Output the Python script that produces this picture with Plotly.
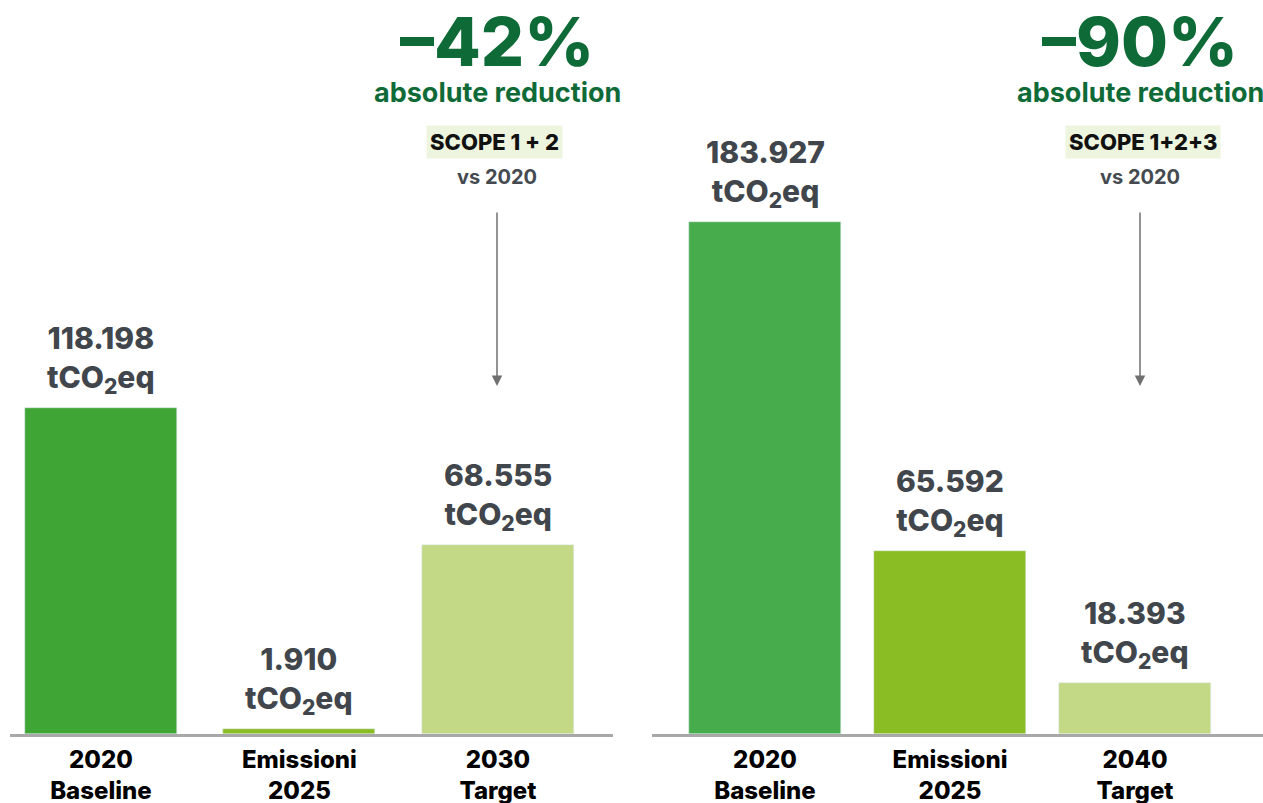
import plotly.graph_objects as go

# Emissions data (tCO2eq)
left_categories = ["2020<br>Baseline", "Emissioni<br>2025", "2030<br>Target"]
left_values = [118198, 1910, 68555]
right_categories = ["2020<br>Baseline", "Emissioni<br>2025", "2040<br>Target"]
right_values = [183927, 65592, 18393]

left_colors = ["#3fa535", "#8abd24", "#c3d986"]
right_colors = ["#47ad4c", "#8abd24", "#c3d986"]

left_headline = "–42%"
right_headline = "–90%"
subtitle = "absolute reduction"
left_scope = "SCOPE 1 + 2"
right_scope = "SCOPE 1+2+3"
baseline_note = "vs 2020"

W, H = 1263, 803
FONT = "Inter"
GREEN = "#0e6b37"
LABEL_GREY = "#40464c"


def fmt(v):
    return f"{v:,}".replace(",", ".")


def px(x):
    return x / W


def py(y):
    return 1 - y / H


fig = go.Figure()
fig.add_trace(go.Bar(
    x=left_categories, y=left_values, marker_color=left_colors,
    width=0.766, xaxis="x", yaxis="y", hoverinfo="skip",
))
fig.add_trace(go.Bar(
    x=right_categories, y=right_values, marker_color=right_colors,
    width=0.82, xaxis="x2", yaxis="y2", hoverinfo="skip",
))

annotations = []
for cats, vals, xr, yr in [(left_categories, left_values, "x", "y"),
                           (right_categories, right_values, "x2", "y2")]:
    for c, v in zip(cats, vals):
        annotations.append(dict(
            x=c, y=v, xref=xr, yref=yr, xanchor="center", yanchor="bottom", yshift=7,
            text=f"{fmt(v)}<br>tCO<sub>2</sub>eq", showarrow=False,
            font=dict(family=FONT, size=30, color=LABEL_GREY, weight=800),
        ))

# headline block above each panel: (centre x in px, scope box offset)
for cx, head, scope, scope_dx in [(497, left_headline, left_scope, -3),
                                  (1140, right_headline, right_scope, 3)]:
    annotations += [
        dict(x=px(cx), y=py(41), xref="paper", yref="paper", text=head,
             showarrow=False, xanchor="center", yanchor="middle",
             font=dict(family=FONT, size=68, color=GREEN, weight=800)),
        dict(x=px(cx), y=py(92), xref="paper", yref="paper", text=subtitle,
             showarrow=False, xanchor="center", yanchor="middle",
             font=dict(family=FONT, size=27, color=GREEN, weight=700)),
        dict(x=px(cx + scope_dx), y=py(142), xref="paper", yref="paper", text=scope,
             showarrow=False, xanchor="center", yanchor="middle",
             bgcolor="#edf5df", borderpad=3,
             font=dict(family=FONT, size=22, color="#111111", weight=800)),
        dict(x=px(cx), y=py(177), xref="paper", yref="paper", text=baseline_note,
             showarrow=False, xanchor="center", yanchor="middle",
             font=dict(family=FONT, size=20, color="#444a50", weight=700)),
        dict(x=px(cx), y=py(386), xref="paper", yref="paper", text="",
             showarrow=True, ax=0, ay=-175, arrowhead=2, arrowsize=1.4,
             arrowwidth=1.5, arrowcolor="#707070"),
    ]

axis_common = dict(
    type="category", showline=True, linecolor="#a8a8a8", linewidth=3,
    ticks="", showgrid=False, zeroline=False, fixedrange=True,
    automargin=False, ticklabelstandoff=2,
    tickfont=dict(family=FONT, size=24, color="#000000", weight=800),
)
yaxis_common = dict(visible=False, showgrid=False, zeroline=False,
                    fixedrange=True, automargin=False)

fig.update_layout(
    width=W, height=H,
    margin=dict(l=0, r=0, t=0, b=0, autoexpand=False),
    paper_bgcolor="white", plot_bgcolor="white",
    showlegend=False, bargap=0,
    xaxis=dict(domain=[px(10), px(613)], range=[-0.458, 2.58], anchor="y", **axis_common),
    xaxis2=dict(domain=[px(652), 1], range=[-0.611, 2.692], anchor="y2", **axis_common),
    yaxis=dict(domain=[69 / H, 1], range=[0, 266370], anchor="x", **yaxis_common),
    yaxis2=dict(domain=[69 / H, 1], range=[0, 263520], anchor="x2", **yaxis_common),
    annotations=annotations,
)

fig.write_html("out.html")
